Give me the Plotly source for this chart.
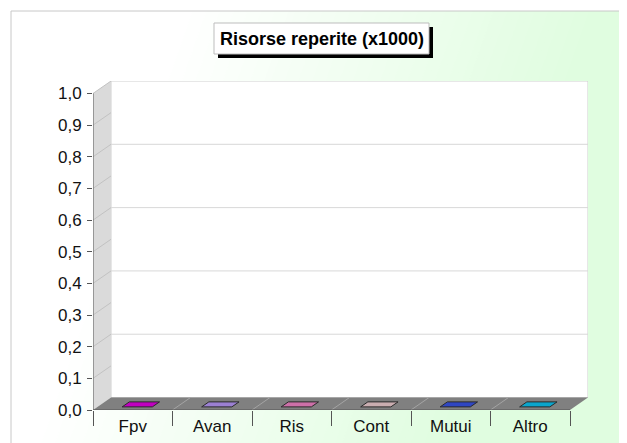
import plotly.graph_objects as go

# ── Data ───────────────────────────────────────────────────────────────────
CATEGORIES = ["Fpv", "Avan", "Ris", "Cont", "Mutui", "Altro"]
VALUES = [0, 0, 0, 0, 0, 0]
BAR_COLORS = ["#c000c0", "#9b80d2", "#cc70a8", "#c9adb0", "#2f46c2", "#0aa5cc"]
Y_TICKS = [0.0, 0.1, 0.2, 0.3, 0.4, 0.5, 0.6, 0.7, 0.8, 0.9, 1.0]
GRID_VALUES = [0.2, 0.4, 0.6, 0.8]
TITLE = "Risorse reperite (x1000)"

# ── Geometry (page pixels; the page body adds an 8px offset) ───────────────
W, H = 627, 443
OFF = 8
PLOT_L, PLOT_R, PLOT_T, PLOT_B = 93, 588, 81, 410
L, R, T, B = PLOT_L - OFF, W - (PLOT_R - OFF), PLOT_T - OFF, H - (PLOT_B - OFF)
DX, DY = 0.2264, 0.0394        # depth offset of the fake 3-D box (axis units)
BAR_W = 0.38
D0, D1 = 0.25, 0.65            # depth slice occupied by the bars
FONT = "Arial, 'Liberation Sans', sans-serif"


def px(x):
    return (x - PLOT_L) / (PLOT_R - PLOT_L)


def py(y):
    return (PLOT_B - y) / (PLOT_B - PLOT_T)


def paper_rect(x0, y0, x1, y1, **kw):
    return dict(type="rect", xref="paper", yref="paper",
                x0=px(x0), x1=px(x1), y0=py(y1), y1=py(y0), **kw)


def data_line(x0, y0, x1, y1, color, width=1, layer="below"):
    return dict(type="line", xref="x", yref="y", x0=x0, y0=y0, x1=x1, y1=y1,
                line=dict(color=color, width=width), layer=layer)


shapes = []

# background: diagonal white -> mint gradient inside a thin frame
RIGHT, BOTTOM = W + 12, H + 12
shapes.append(paper_rect(11, 11, RIGHT, BOTTOM, fillcolor="white",
                         line=dict(width=0), layer="below"))
C0, C1, N = 190, 600, 60
g0, g1 = (255, 255, 255), (224, 253, 224)
step = (C1 - C0) / N
for k in range(N + 1):
    c_a = C0 + k * step
    c_b = c_a + step + 1 if k < N else 2000
    t = min(1.0, (k + 0.5) / N)
    col = "rgb(%d,%d,%d)" % tuple(round(a + (b - a) * t) for a, b in zip(g0, g1))
    ya, yb = 11, BOTTOM
    pts = [(c_a - 0.35 * ya, ya), (c_b - 0.35 * ya, ya),
           (c_b - 0.35 * yb, yb), (c_a - 0.35 * yb, yb)]
    pts = [(max(11, min(RIGHT, x)), y) for x, y in pts]
    path = "M " + " L ".join("%f %f" % (px(x), py(y)) for x, y in pts) + " Z"
    shapes.append(dict(type="path", xref="paper", yref="paper", path=path,
                       fillcolor=col, line=dict(width=0), layer="below"))
shapes.append(paper_rect(11, 11, RIGHT, BOTTOM, fillcolor="rgba(0,0,0,0)",
                         line=dict(color="#c8c8c8", width=1), layer="below"))

# title box with hard black shadow
shapes.append(paper_rect(218, 27, 433, 58, fillcolor="black",
                         line=dict(width=0), layer="above"))
shapes.append(paper_rect(214, 23, 429, 54, fillcolor="white",
                         line=dict(color="#bdbdbd", width=1), layer="above"))

# back wall + grid
x_lo, x_hi = -0.5, len(CATEGORIES) - 0.5
shapes.append(dict(type="rect", xref="x", yref="y", x0=x_lo + DX, x1=x_hi + DX,
                   y0=DY, y1=1 + DY, fillcolor="white",
                   line=dict(color="#cfcfcf", width=1), layer="below"))
for v in GRID_VALUES:
    shapes.append(data_line(x_lo + DX, v + DY, x_hi + DX, v + DY, "#d8d8d8"))

# left wall
shapes.append(dict(type="path", xref="x", yref="y", layer="below",
                   path="M %f 0 L %f %f L %f %f L %f 1 Z" % (
                       x_lo, x_lo + DX, DY, x_lo + DX, 1 + DY, x_lo),
                   fillcolor="#dadada", line=dict(width=0)))
for v in Y_TICKS[1:]:
    shapes.append(data_line(x_lo, v, x_lo + DX, v + DY, "#c2c2c2"))

# floor
shapes.append(dict(type="path", xref="x", yref="y", layer="below",
                   path="M %f 0 L %f 0 L %f %f L %f %f Z" % (
                       x_lo, x_hi, x_hi + DX, DY, x_lo + DX, DY),
                   fillcolor="#808080", line=dict(width=0)))
for i in range(1, len(CATEGORIES)):
    b = i - 0.5
    shapes.append(data_line(b, 0, b + DX, DY, "#a4a4a4"))

# front axis edges
shapes.append(data_line(x_lo, 0, x_lo, 1, "#555555"))
shapes.append(data_line(x_lo, 0, x_hi, 0, "#555555"))

fig = go.Figure()

# bars: all values are zero, so only the flat top face is visible
for i, (cat, v, c) in enumerate(zip(CATEGORIES, VALUES, BAR_COLORS)):
    xa, xb = i - BAR_W / 2, i + BAR_W / 2
    xs = [xa + D0 * DX, xb + D0 * DX, xb + D1 * DX, xa + D1 * DX, xa + D0 * DX]
    ys = [v + D0 * DY, v + D0 * DY, v + D1 * DY, v + D1 * DY, v + D0 * DY]
    fig.add_trace(go.Scatter(
        x=xs, y=ys, mode="lines", fill="toself", fillcolor=c,
        line=dict(color="#2a2a2a", width=1), name=cat, hoverinfo="skip",
    ))

fig.add_annotation(
    text="<b>%s</b>" % TITLE, xref="paper", yref="paper",
    x=px(321.5), y=py(38.5), xanchor="center", yanchor="middle",
    showarrow=False, font=dict(family=FONT, size=18, color="black"),
)

fig.update_layout(
    width=W, height=H,
    margin=dict(l=L, r=R, t=T, b=B, pad=0),
    paper_bgcolor="white",
    plot_bgcolor="rgba(0,0,0,0)",
    showlegend=False,
    separators=",.",
    font=dict(family=FONT, size=17, color="#111111"),
    shapes=shapes,
    xaxis=dict(
        range=[x_lo, x_hi + DX], tickvals=list(range(len(CATEGORIES))),
        ticktext=CATEGORIES, ticks="", showline=False, showgrid=False,
        zeroline=False, automargin=False, ticklabelstandoff=4,
        tickfont=dict(family=FONT, size=17, color="#111111"),
        minor=dict(tickvals=[i - 0.5 for i in range(len(CATEGORIES) + 1)],
                   ticks="outside", ticklen=15, tickcolor="#555555",
                   tickwidth=1, showgrid=False),
    ),
    yaxis=dict(
        range=[0, 1 + DY], tickvals=Y_TICKS, tickformat=".1f",
        ticks="outside", ticklen=5, tickcolor="#555555", tickwidth=1,
        showline=False, showgrid=False, zeroline=False, automargin=False,
        ticklabelstandoff=2,
        tickfont=dict(family=FONT, size=17, color="#111111"),
    ),
)

fig.write_html("out.html")
